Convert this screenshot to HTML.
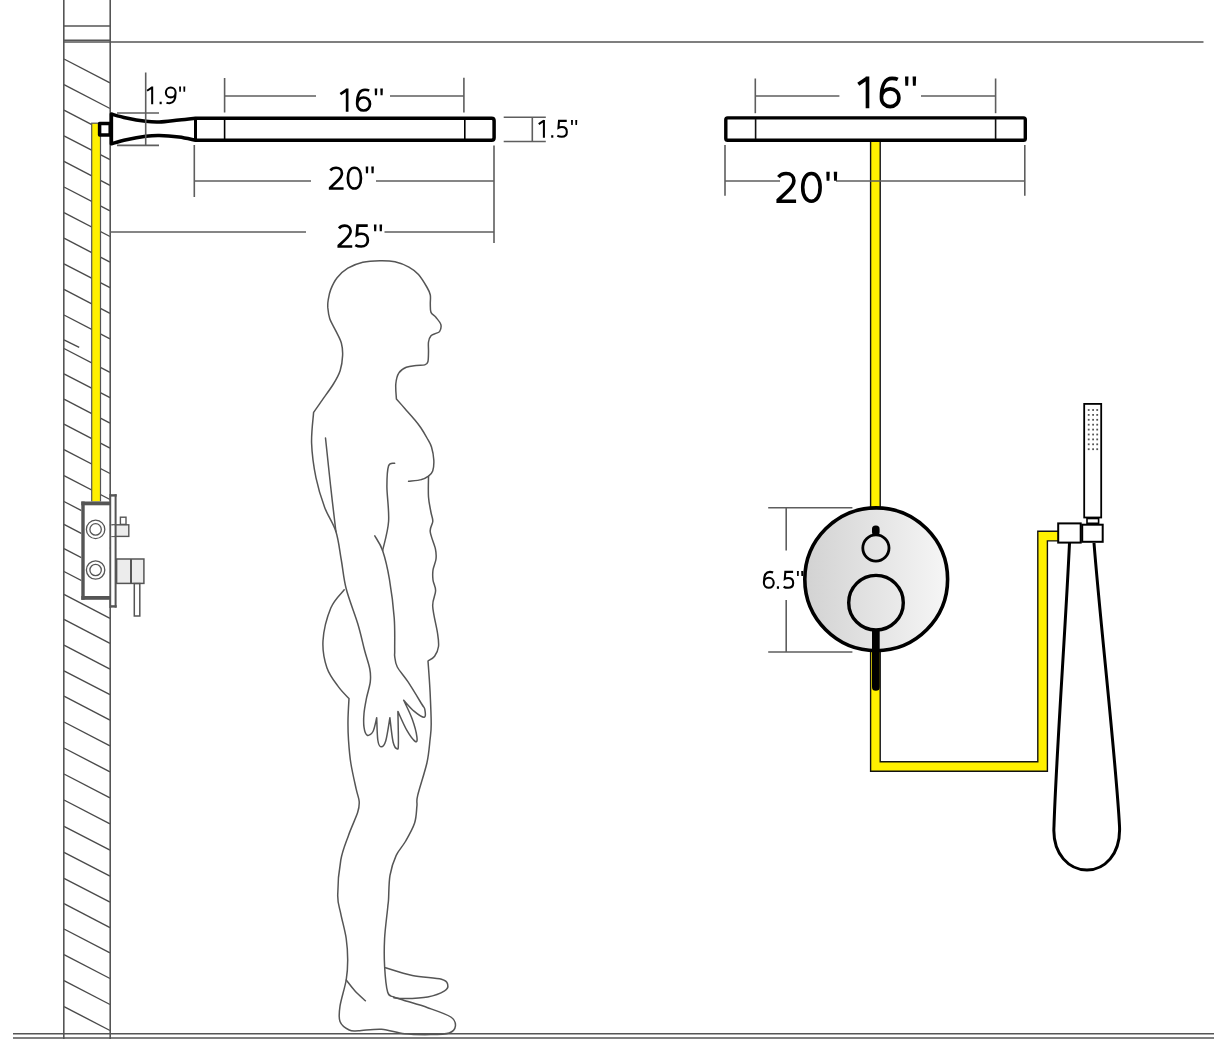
<!DOCTYPE html>
<html><head><meta charset="utf-8">
<style>
html,body{margin:0;padding:0;background:#fff;}
body{width:1214px;height:1040px;overflow:hidden;}
svg{display:block;}
text{font-family:"Liberation Sans",sans-serif;fill:#111;}
</style></head>
<body>
<svg width="1214" height="1040" viewBox="0 0 1214 1040">
<defs>
<linearGradient id="plate" x1="0" y1="0" x2="1" y2="0">
<stop offset="0" stop-color="#d2d2d2"/>
<stop offset="1" stop-color="#f6f6f6"/>
</linearGradient>
</defs>
<rect x="0" y="0" width="1214" height="1040" fill="#fff"/>

<!-- wall hatching -->
<g stroke="#4a4a4a" stroke-width="1.4" fill="none"><line x1="64" y1="59.0" x2="110" y2="82.9"/><line x1="64" y1="84.6" x2="110" y2="108.5"/><line x1="64" y1="110.2" x2="110" y2="134.1"/><line x1="64" y1="135.8" x2="110" y2="159.7"/><line x1="64" y1="161.4" x2="110" y2="185.3"/><line x1="64" y1="187.0" x2="110" y2="210.9"/><line x1="64" y1="212.6" x2="110" y2="236.5"/><line x1="64" y1="238.2" x2="110" y2="262.1"/><line x1="64" y1="263.8" x2="110" y2="287.7"/><line x1="64" y1="289.4" x2="110" y2="313.3"/><line x1="64" y1="315.0" x2="110" y2="338.9"/><line x1="64" y1="348.5" x2="110" y2="372.4"/><line x1="64" y1="373.8" x2="110" y2="397.7"/><line x1="64" y1="399.2" x2="110" y2="423.1"/><line x1="64" y1="424.2" x2="110" y2="448.1"/><line x1="64" y1="449.6" x2="110" y2="473.5"/><line x1="64" y1="475.6" x2="110" y2="499.5"/><line x1="64" y1="501.5" x2="110" y2="525.4"/><line x1="64" y1="524.4" x2="110" y2="548.3"/><line x1="64" y1="548.6" x2="110" y2="572.5"/><line x1="64" y1="571.5" x2="110" y2="595.4"/><line x1="64" y1="594.4" x2="110" y2="618.3"/><line x1="64" y1="619.4" x2="110" y2="643.3"/><line x1="64" y1="645.2" x2="110" y2="669.1"/><line x1="64" y1="670.8" x2="110" y2="694.7"/><line x1="64" y1="696.2" x2="110" y2="720.1"/><line x1="64" y1="722.0" x2="110" y2="745.9"/><line x1="64" y1="748.0" x2="110" y2="771.9"/><line x1="64" y1="774.0" x2="110" y2="797.9"/><line x1="64" y1="800.0" x2="110" y2="823.9"/><line x1="64" y1="826.3" x2="110" y2="850.2"/><line x1="64" y1="852.3" x2="110" y2="876.2"/><line x1="64" y1="878.3" x2="110" y2="902.2"/><line x1="64" y1="903.7" x2="110" y2="927.6"/><line x1="64" y1="929.0" x2="110" y2="952.9"/><line x1="64" y1="954.6" x2="110" y2="978.5"/><line x1="64" y1="980.6" x2="110" y2="1004.5"/><line x1="64" y1="1006.6" x2="110" y2="1030.5"/><line x1="64" y1="339.8" x2="79.2" y2="347.3"/></g>

<!-- wall + room lines -->
<g stroke="#555" stroke-width="1.6" fill="none">
<line x1="63.8" y1="0" x2="63.8" y2="1039"/>
<line x1="110.2" y1="0" x2="110.2" y2="1039"/>
<line x1="64" y1="26" x2="110" y2="26"/>
<line x1="64" y1="40.2" x2="110" y2="40.2"/>
<line x1="64" y1="42" x2="1203.5" y2="42"/>
<line x1="13" y1="1033.8" x2="1214" y2="1033.8"/>
<line x1="13" y1="1038" x2="1214" y2="1038"/>
</g>

<!-- left pipe -->
<rect x="91.7" y="123.2" width="8.8" height="378.8" fill="#fff000" stroke="#555" stroke-width="1.2"/>

<!-- left valve box -->
<rect x="81.3" y="501.5" width="28.4" height="98.3" fill="#fff"/>
<g stroke="#555" fill="none">
<line x1="83" y1="501.5" x2="83" y2="599.8" stroke-width="3.4"/>
<line x1="81.3" y1="503.4" x2="110.2" y2="503.4" stroke-width="3.8"/>
<line x1="81.3" y1="597.9" x2="110.2" y2="597.9" stroke-width="3.8"/>
<line x1="110.3" y1="494" x2="110.3" y2="608" stroke-width="1.8"/>
</g>
<g fill="none" stroke="#555" stroke-width="1.3">
<circle cx="95.6" cy="529.4" r="9.2"/><circle cx="95.6" cy="529.4" r="5.7"/>
<circle cx="95.6" cy="570" r="9.2"/><circle cx="95.6" cy="570" r="5.7"/>
</g>
<rect x="112" y="524.8" width="16.8" height="11.6" fill="#ececec" stroke="#555" stroke-width="1.4"/>
<rect x="120.4" y="517.2" width="5.6" height="7.2" fill="#fff" stroke="#555" stroke-width="1.4"/>
<rect x="116.6" y="559" width="27.3" height="24.4" fill="#ececec" stroke="#555" stroke-width="1.5"/>
<line x1="131" y1="559" x2="131" y2="583.4" stroke="#555" stroke-width="2"/>
<rect x="134.3" y="583.6" width="5.5" height="32.4" fill="#fff" stroke="#555" stroke-width="1.5"/>
<rect x="111.2" y="525.5" width="3.4" height="10.6" fill="#fff"/>
<g stroke="#555" fill="none">
<line x1="110.3" y1="495.4" x2="116.7" y2="495.4" stroke-width="2.4"/>
<line x1="110.3" y1="606.4" x2="116.7" y2="606.4" stroke-width="2.4"/>
<line x1="115.6" y1="494.2" x2="115.6" y2="607.6" stroke-width="2"/>
</g>
<!-- left shower arm -->
<g fill="none" stroke="#000" stroke-width="3.5" stroke-linejoin="round">
<rect x="99.6" y="123.6" width="10.6" height="11.4" fill="#fff"/>
<path d="M111.4,114.0 C113.9,114.7 120.7,116.8 126.4,118.0 C132.1,119.2 140.2,120.6 145.7,121.3 C151.2,122.0 153.8,122.2 159.3,122.0 C164.9,121.8 173.0,120.6 179.0,120.0 C185.0,119.4 192.8,118.5 195.5,118.2 L491.6,118.2 Q494.1,118.2 494.1,120.7 L494.1,137.7 Q494.1,140.2 491.6,140.2 L195.5,140.2 C192.8,139.7 185.0,137.8 179.0,137.0 C173.0,136.2 164.9,135.5 159.3,135.4 C153.8,135.3 151.2,135.5 145.7,136.2 C140.2,136.9 132.1,138.4 126.4,139.7 C120.7,141.0 113.9,143.1 111.4,143.8 Z" fill="#fff"/>
<line x1="111.4" y1="113" x2="111.4" y2="145" stroke-width="3"/>
<line x1="195.5" y1="118" x2="195.5" y2="140" stroke-width="3"/>
</g>
<g stroke="#000" stroke-width="1.6"><line x1="224.6" y1="119" x2="224.6" y2="139"/><line x1="464.8" y1="119" x2="464.8" y2="139"/></g>

<!-- left dims -->
<g stroke="#5e5e5e" stroke-width="1.6" fill="none">
<line x1="145.7" y1="72.5" x2="145.7" y2="146"/>
<line x1="117" y1="113" x2="159" y2="113"/>
<line x1="117" y1="145.4" x2="159" y2="145.4"/>
<line x1="224.6" y1="78" x2="224.6" y2="112.5"/>
<line x1="463.9" y1="77.8" x2="463.9" y2="112.5"/>
<line x1="225" y1="96" x2="316" y2="96"/>
<line x1="390" y1="96" x2="463.9" y2="96"/>
<line x1="503.7" y1="117.3" x2="545.8" y2="117.3"/>
<line x1="503.7" y1="141.5" x2="545.8" y2="141.5"/>
<line x1="532.3" y1="117.3" x2="532.3" y2="141.5"/>
<line x1="194.3" y1="145" x2="194.3" y2="197"/>
<line x1="194.3" y1="181" x2="311" y2="181"/>
<line x1="376" y1="181" x2="494" y2="181"/>
<line x1="494" y1="145.6" x2="494" y2="243"/>
<line x1="110" y1="232" x2="306" y2="232"/>
<line x1="384.5" y1="232" x2="494" y2="232"/>
</g>

<!-- right: pipe -->
<path d="M875.4,141 V766.5 H1042.6 V536.1 H1058" fill="none" stroke="#111" stroke-width="11"/>
<path d="M875.4,141 V766.5 H1042.6 V536.1 H1058" fill="none" stroke="#fff000" stroke-width="8.2"/>

<!-- right: shower head -->
<g fill="#fff" stroke="#000" stroke-width="3.4">
<rect x="725.8" y="117.9" width="299.5" height="22.4" rx="1.8"/>
</g>
<g stroke="#111" stroke-width="1.6"><line x1="755.6" y1="119" x2="755.6" y2="139"/><line x1="995.6" y1="119" x2="995.6" y2="139"/></g>
<g stroke="#5e5e5e" stroke-width="1.6" fill="none">
<line x1="755.3" y1="78.5" x2="755.3" y2="113.2"/>
<line x1="995.6" y1="78.5" x2="995.6" y2="113.2"/>
<line x1="755.3" y1="96" x2="839.4" y2="96"/>
<line x1="921" y1="96" x2="995.6" y2="96"/>
<line x1="725" y1="145" x2="725" y2="195.7"/>
<line x1="1024.8" y1="145" x2="1024.8" y2="195.7"/>
<line x1="725" y1="181" x2="780" y2="181"/>
<line x1="836" y1="181" x2="1024.8" y2="181"/>
</g>

<!-- mixer -->
<g stroke="#5e5e5e" stroke-width="1.6" fill="none">
<line x1="768.2" y1="507.7" x2="852.4" y2="507.7"/>
<line x1="768.2" y1="652" x2="852.4" y2="652"/>
<line x1="786.2" y1="507.7" x2="786.2" y2="550.4"/>
<line x1="786.2" y1="600" x2="786.2" y2="652"/>
</g>
<circle cx="876.2" cy="579.3" r="71.4" fill="url(#plate)" stroke="#000" stroke-width="3.6"/>
<circle cx="875.9" cy="548" r="13.1" fill="none" stroke="#000" stroke-width="2.8"/>
<rect x="872" y="525.5" width="7.6" height="10" rx="3.6" fill="#000"/>
<circle cx="876" cy="602.7" r="27.3" fill="none" stroke="#000" stroke-width="3.4"/>
<path d="M872,629.5 H879.7 V687 A3.85,3.85 0 0 1 872,687 Z" fill="#000"/>

<!-- hand shower -->
<g fill="#fff" stroke="#000" stroke-width="2">
<path d="M1069.5,543 C1066,620 1056,760 1054,826 C1052,855 1070,870 1087,870 C1104,870 1121,855 1119.5,826 C1116,760 1100,620 1094,543" fill="none" stroke-width="3"/>
<rect x="1084.2" y="403.9" width="17" height="113.6" stroke-width="1.8"/>
<rect x="1087" y="518.5" width="11.6" height="4.8" stroke-width="1.6"/>
<rect x="1058.2" y="523.4" width="22.5" height="19.2"/>
<rect x="1082.2" y="524.7" width="20.5" height="17.1"/>
</g>
<g fill="#555"><rect x="1087.8" y="409.1" width="1.8" height="1.8"/><rect x="1092.2" y="409.1" width="1.8" height="1.8"/><rect x="1096.3" y="409.1" width="1.8" height="1.8"/><rect x="1087.8" y="414.0" width="1.8" height="1.8"/><rect x="1092.2" y="414.0" width="1.8" height="1.8"/><rect x="1096.3" y="414.0" width="1.8" height="1.8"/><rect x="1087.8" y="418.9" width="1.8" height="1.8"/><rect x="1092.2" y="418.9" width="1.8" height="1.8"/><rect x="1096.3" y="418.9" width="1.8" height="1.8"/><rect x="1087.8" y="423.8" width="1.8" height="1.8"/><rect x="1092.2" y="423.8" width="1.8" height="1.8"/><rect x="1096.3" y="423.8" width="1.8" height="1.8"/><rect x="1087.8" y="428.7" width="1.8" height="1.8"/><rect x="1092.2" y="428.7" width="1.8" height="1.8"/><rect x="1096.3" y="428.7" width="1.8" height="1.8"/><rect x="1087.8" y="433.6" width="1.8" height="1.8"/><rect x="1092.2" y="433.6" width="1.8" height="1.8"/><rect x="1096.3" y="433.6" width="1.8" height="1.8"/><rect x="1087.8" y="438.5" width="1.8" height="1.8"/><rect x="1092.2" y="438.5" width="1.8" height="1.8"/><rect x="1096.3" y="438.5" width="1.8" height="1.8"/><rect x="1087.8" y="443.4" width="1.8" height="1.8"/><rect x="1092.2" y="443.4" width="1.8" height="1.8"/><rect x="1096.3" y="443.4" width="1.8" height="1.8"/><rect x="1087.8" y="448.3" width="1.8" height="1.8"/><rect x="1092.2" y="448.3" width="1.8" height="1.8"/><rect x="1096.3" y="448.3" width="1.8" height="1.8"/></g>
<g><path transform="translate(146.60,86.50) scale(0.1770)" d="M2.5,24 L31.5,4.5 M31.5,0 V100" fill="none" stroke="#000" stroke-width="11.5"/><path transform="translate(159.40,86.50) scale(0.1770)" d="M1,86 H13 V100 H1 Z" fill="#000"/><path transform="translate(164.90,86.50) scale(0.1770)" d="M9,91 C15,94 21,94.5 27,94.5 C49,94.5 60.5,72 60.5,36 M33,61.5 C18,61.5 5.5,50 5.5,33.5 C5.5,17 18,5.5 33,5.5 C48,5.5 60.5,17 60.5,33.5 C60.5,50 48,61.5 33,61.5 Z" fill="none" stroke="#000" stroke-width="11.5"/><path transform="translate(179.10,86.50) scale(0.1770)" d="M0,0 H11 L10,29 H1 Z M24,0 H35 L34,29 H25 Z" fill="#000"/><path transform="translate(339.80,88.50) scale(0.2330)" d="M2.5,24 L31.5,4.5 M31.5,0 V100" fill="none" stroke="#000" stroke-width="11.5"/><path transform="translate(355.90,88.50) scale(0.2330)" d="M57,9 C51,6 45,5.5 39,5.5 C17,5.5 5.5,28 5.5,64 M33,38.5 C48,38.5 60.5,50 60.5,66.5 C60.5,83 48,94.5 33,94.5 C18,94.5 5.5,83 5.5,66.5 C5.5,50 18,38.5 33,38.5 Z" fill="none" stroke="#000" stroke-width="11.5"/><path transform="translate(374.70,88.50) scale(0.2330)" d="M0,0 H11 L10,29 H1 Z M24,0 H35 L34,29 H25 Z" fill="#000"/><path transform="translate(538.30,119.90) scale(0.1780)" d="M2.5,24 L31.5,4.5 M31.5,0 V100" fill="none" stroke="#000" stroke-width="11.5"/><path transform="translate(551.00,119.90) scale(0.1780)" d="M1,86 H13 V100 H1 Z" fill="#000"/><path transform="translate(556.60,119.90) scale(0.1780)" d="M57,5.5 H13.5 L10.5,45 C16,41.5 23,40 30,40 C47,40 57.5,51 57.5,67.5 C57.5,84 46,94.5 29,94.5 C18,94.5 10,92 4,88.5" fill="none" stroke="#000" stroke-width="11.5"/><path transform="translate(571.00,119.90) scale(0.1780)" d="M0,0 H11 L10,29 H1 Z M24,0 H35 L34,29 H25 Z" fill="#000"/><path transform="translate(328.90,166.50) scale(0.2330)" d="M6.5,17 C12.5,9 21,5.5 31,5.5 C46,5.5 56,14.5 56,28.5 C56,42 48,51 34,64 L5.5,91 V94.5 H63" fill="none" stroke="#000" stroke-width="11.5"/><path transform="translate(346.60,166.50) scale(0.2330)" d="M33.5,5.5 C50,5.5 61.5,22 61.5,50 C61.5,78 50,94.5 33.5,94.5 C17,94.5 5.5,78 5.5,50 C5.5,22 17,5.5 33.5,5.5 Z" fill="none" stroke="#000" stroke-width="11.5"/><path transform="translate(365.70,166.50) scale(0.2330)" d="M0,0 H11 L10,29 H1 Z M24,0 H35 L34,29 H25 Z" fill="#000"/><path transform="translate(337.50,224.40) scale(0.2340)" d="M6.5,17 C12.5,9 21,5.5 31,5.5 C46,5.5 56,14.5 56,28.5 C56,42 48,51 34,64 L5.5,91 V94.5 H63" fill="none" stroke="#000" stroke-width="11.5"/><path transform="translate(354.40,224.40) scale(0.2340)" d="M57,5.5 H13.5 L10.5,45 C16,41.5 23,40 30,40 C47,40 57.5,51 57.5,67.5 C57.5,84 46,94.5 29,94.5 C18,94.5 10,92 4,88.5" fill="none" stroke="#000" stroke-width="11.5"/><path transform="translate(373.90,224.40) scale(0.2340)" d="M0,0 H11 L10,29 H1 Z M24,0 H35 L34,29 H25 Z" fill="#000"/><path transform="translate(857.50,76.60) scale(0.3170)" d="M2.5,24 L31.5,4.5 M31.5,0 V100" fill="none" stroke="#000" stroke-width="11.5"/><path transform="translate(879.70,76.60) scale(0.3170)" d="M57,9 C51,6 45,5.5 39,5.5 C17,5.5 5.5,28 5.5,64 M33,38.5 C48,38.5 60.5,50 60.5,66.5 C60.5,83 48,94.5 33,94.5 C18,94.5 5.5,83 5.5,66.5 C5.5,50 18,38.5 33,38.5 Z" fill="none" stroke="#000" stroke-width="11.5"/><path transform="translate(905.00,76.60) scale(0.3170)" d="M0,0 H11 L10,29 H1 Z M24,0 H35 L34,29 H25 Z" fill="#000"/><path transform="translate(776.50,171.80) scale(0.3110)" d="M6.5,17 C12.5,9 21,5.5 31,5.5 C46,5.5 56,14.5 56,28.5 C56,42 48,51 34,64 L5.5,91 V94.5 H63" fill="none" stroke="#000" stroke-width="11.5"/><path transform="translate(801.00,171.80) scale(0.3110)" d="M33.5,5.5 C50,5.5 61.5,22 61.5,50 C61.5,78 50,94.5 33.5,94.5 C17,94.5 5.5,78 5.5,50 C5.5,22 17,5.5 33.5,5.5 Z" fill="none" stroke="#000" stroke-width="11.5"/><path transform="translate(826.30,171.80) scale(0.3110)" d="M0,0 H11 L10,29 H1 Z M24,0 H35 L34,29 H25 Z" fill="#000"/><path transform="translate(762.90,570.90) scale(0.1790)" d="M57,9 C51,6 45,5.5 39,5.5 C17,5.5 5.5,28 5.5,64 M33,38.5 C48,38.5 60.5,50 60.5,66.5 C60.5,83 48,94.5 33,94.5 C18,94.5 5.5,83 5.5,66.5 C5.5,50 18,38.5 33,38.5 Z" fill="none" stroke="#000" stroke-width="11.5"/><path transform="translate(776.70,570.90) scale(0.1790)" d="M1,86 H13 V100 H1 Z" fill="#000"/><path transform="translate(782.90,570.90) scale(0.1790)" d="M57,5.5 H13.5 L10.5,45 C16,41.5 23,40 30,40 C47,40 57.5,51 57.5,67.5 C57.5,84 46,94.5 29,94.5 C18,94.5 10,92 4,88.5" fill="none" stroke="#000" stroke-width="11.5"/><path transform="translate(796.90,570.90) scale(0.1790)" d="M0,0 H11 L10,29 H1 Z M24,0 H35 L34,29 H25 Z" fill="#000"/></g>

<!-- human figure -->
<g fill="none" stroke="#555" stroke-width="1.5" stroke-linejoin="round" stroke-linecap="round"><path d="M408.6,481.3 C410.8,481.0 418.2,480.5 421.5,479.6 C424.8,478.8 426.6,477.6 428.5,476.2 C430.4,474.8 431.8,473.7 432.7,471.0 C433.6,468.3 434.0,464.0 433.8,460.0 C433.6,456.0 432.6,450.7 431.5,447.0 C430.4,443.3 428.8,441.2 427.0,438.0 C425.2,434.8 423.0,431.0 421.0,428.0 C419.0,425.0 417.6,423.1 414.9,419.9 C412.2,416.7 408.1,412.2 405.0,408.7 C401.9,405.2 397.8,400.5 396.4,398.9 C396.3,396.4 395.4,388.3 395.8,384.0 C396.2,379.7 397.1,375.7 398.9,372.9 C400.6,370.1 403.4,368.5 406.3,367.3 C409.2,366.1 413.1,365.9 416.2,365.5 C419.3,365.1 422.9,365.5 424.8,364.9 C426.8,364.3 427.3,364.0 427.9,361.8 C428.5,359.6 428.4,355.2 428.5,351.9 C428.6,348.6 428.1,344.7 428.5,342.0 C428.9,339.3 429.8,337.2 431.0,335.8 C432.2,334.4 434.5,334.1 435.9,333.4 C437.3,332.7 438.8,332.9 439.6,331.5 C440.4,330.1 441.5,327.1 440.9,324.7 C440.3,322.3 437.5,319.4 435.9,317.3 C434.2,315.2 431.9,314.6 431.0,312.4 C430.1,310.2 430.4,306.9 430.3,304.0 C430.2,301.1 430.8,297.8 430.3,295.0 C429.8,292.2 429.1,290.9 427.1,287.5 C425.1,284.1 421.5,278.0 418.5,274.6 C415.5,271.2 412.8,269.2 408.9,267.1 C405.0,265.0 399.8,262.9 395.0,261.8 C390.2,260.7 385.4,260.6 380.0,260.7 C374.6,260.8 368.2,261.1 362.8,262.3 C357.4,263.6 352.1,265.6 347.8,268.2 C343.5,270.8 340.0,274.2 337.1,277.8 C334.2,281.4 332.2,285.9 330.7,289.6 C329.2,293.3 328.7,297.0 328.2,300.0 C327.7,303.0 327.6,304.3 327.8,307.4 C328.1,310.5 328.4,314.6 329.7,318.5 C331.0,322.4 333.9,326.8 335.8,330.9 C337.8,335.0 340.3,339.1 341.4,343.2 C342.5,347.3 342.8,351.1 342.6,355.6 C342.4,360.1 341.7,365.7 340.2,370.4 C338.7,375.1 336.4,379.1 333.4,384.0 C330.4,388.9 325.5,395.4 322.2,400.1 C318.9,404.8 315.0,410.3 313.6,412.4 C313.3,417.5 311.2,432.4 311.6,443.3 C312.0,454.2 313.8,467.2 316.0,477.9 C318.2,488.6 321.3,498.4 324.6,507.3 C327.9,516.2 333.1,522.7 335.9,531.5 C338.7,540.3 339.6,550.5 341.3,560.0 C343.0,569.5 343.5,578.2 346.2,588.8 C348.9,599.4 354.6,613.3 357.7,623.5 C360.8,633.7 362.5,642.4 364.5,650.0 C366.5,657.6 368.8,663.7 369.8,669.0 C370.8,674.3 370.8,676.9 370.3,681.7 C369.8,686.5 367.7,692.3 366.6,697.6 C365.6,702.9 364.4,708.6 364.0,713.5 C363.6,718.4 363.5,723.6 364.0,727.2 C364.5,730.8 365.7,734.5 367.2,735.2 C368.7,735.9 371.4,734.4 373.0,731.5 C374.6,728.6 376.1,720.0 376.7,717.7 C376.9,721.4 377.1,735.1 377.8,740.0 C378.5,744.9 379.6,746.6 380.9,746.8 C382.2,747.0 384.2,745.9 385.7,741.0 C387.2,736.1 389.2,721.6 389.9,717.7 C390.4,721.8 391.9,736.8 393.1,742.0 C394.3,747.2 396.4,748.8 397.3,749.0 C398.2,749.2 398.3,749.4 398.4,743.1 C398.5,736.8 398.0,716.7 397.9,711.4 C399.4,714.6 404.0,725.4 406.9,730.4 C409.8,735.4 413.6,740.4 415.3,741.5 C417.0,742.6 417.4,740.6 416.9,736.8 C416.4,733.0 414.3,724.9 412.1,718.8 C409.9,712.7 405.1,703.4 403.7,700.3 C405.5,702.1 410.9,708.6 414.3,711.4 C417.7,714.2 422.6,717.6 424.3,717.2 C426.1,716.9 425.2,711.5 424.8,709.3 C424.4,707.1 424.5,708.6 421.7,704.0 C418.9,699.4 412.0,687.9 407.9,681.7 C403.8,675.5 399.5,671.2 397.3,667.0 C395.1,662.8 395.1,659.1 394.7,656.3 C394.3,653.5 394.8,656.4 394.7,650.0 C394.6,643.6 395.1,629.5 394.2,617.7 C393.3,605.9 391.3,590.4 389.4,579.2 C387.5,568.0 385.0,557.8 382.6,550.6 C380.2,543.4 376.1,538.4 374.8,535.9"/><path d="M325.5,438.0 C326.3,445.8 328.8,469.4 330.5,485.0 C332.2,500.6 335.0,523.8 335.9,531.5"/><path d="M394.7,463.2 C393.7,463.6 389.9,461.9 388.6,465.8 C387.3,469.7 386.9,477.3 386.9,486.5 C386.9,495.7 389.3,510.5 388.6,521.2 C387.9,531.9 383.6,545.7 382.6,550.6"/><path d="M428.5,476.2 C428.5,479.7 428.1,490.9 428.5,497.0 C428.9,503.1 430.3,508.5 431.0,512.5 C431.7,516.5 432.9,518.0 432.8,521.2 C432.7,524.4 429.8,526.9 430.2,531.5 C430.6,536.1 434.4,544.2 435.4,548.8 C436.4,553.4 436.4,555.5 436.0,559.0 C435.6,562.5 433.5,566.5 433.0,570.0 C432.5,573.5 432.6,576.5 433.0,580.0 C433.4,583.5 435.7,586.4 435.6,590.8 C435.6,595.2 432.4,599.2 432.7,606.2 C433.0,613.2 436.5,626.3 437.5,633.0 C438.5,639.7 439.0,642.6 438.5,646.5 C438.0,650.4 436.4,653.8 434.6,656.2 C432.9,658.6 429.1,660.2 428.0,661.0 C428.4,666.2 429.6,681.8 430.1,692.3 C430.6,702.8 431.2,716.0 431.2,724.0 C431.2,732.0 430.7,733.5 430.0,740.0 C429.3,746.5 428.9,753.8 426.9,763.0 C424.8,772.2 419.4,788.2 417.7,795.4 C416.0,802.6 417.4,801.6 416.9,806.2 C416.4,810.8 416.5,817.1 414.6,823.0 C412.7,828.9 408.5,836.1 405.4,841.5 C402.3,846.9 398.8,849.8 396.2,855.4 C393.6,861.0 391.3,868.0 390.0,875.4 C388.7,882.8 388.9,894.6 388.5,900.0 C388.1,905.4 388.3,901.3 387.7,907.7 C387.1,914.1 385.1,928.8 384.6,938.5 C384.1,948.2 384.1,957.2 384.6,966.2 C385.1,975.2 386.2,987.2 387.7,992.3 C389.2,997.4 391.2,995.7 393.8,997.0 C396.4,998.3 397.4,998.2 403.0,1000.0 C408.6,1001.8 419.7,1004.9 427.7,1007.7 C435.7,1010.5 446.2,1013.9 450.8,1017.0 C455.4,1020.1 455.7,1023.5 455.4,1026.2 C455.1,1028.9 453.3,1031.6 449.2,1033.0 C445.1,1034.4 438.2,1034.5 430.8,1034.6 C423.4,1034.7 412.8,1034.7 404.6,1033.8 C396.4,1032.9 389.2,1029.7 381.5,1029.2 C373.8,1028.7 363.9,1030.7 358.5,1030.8 C353.1,1030.9 352.3,1031.5 349.2,1030.0 C346.1,1028.5 341.5,1025.5 340.0,1021.5 C338.5,1017.5 339.0,1013.1 340.0,1006.2 C341.0,999.3 344.9,987.7 346.2,980.0 C347.5,972.3 347.7,966.9 347.7,960.0 C347.7,953.1 347.3,946.2 346.2,938.5 C345.1,930.8 342.2,921.0 340.8,913.8 C339.4,906.6 337.7,904.4 337.7,895.4 C337.7,886.4 339.0,870.0 340.8,860.0 C342.6,850.0 345.7,843.4 348.5,835.4 C351.3,827.4 355.9,817.9 357.7,812.3 C359.5,806.6 359.4,805.4 359.2,801.5 C358.9,797.6 357.6,795.6 356.2,789.2 C354.8,782.8 352.1,771.2 350.8,763.0 C349.5,754.8 349.0,747.2 348.5,740.0 C348.0,732.8 347.9,726.9 348.0,720.0 C348.1,713.1 348.8,702.1 349.0,698.5 C347.2,696.6 342.2,692.0 338.5,686.9 C334.8,681.8 329.5,675.4 326.9,667.7 C324.3,660.0 322.4,650.8 323.0,640.8 C323.6,630.8 327.3,616.5 330.8,608.0 C334.3,599.5 342.0,592.8 344.2,589.8"/><path d="M346.2,980.0 C347.7,981.8 351.8,987.5 355.0,991.0 C358.2,994.5 363.7,999.2 365.4,1000.8"/><path d="M385.4,967.7 C389.9,969.0 402.9,973.5 412.3,975.4 C421.7,977.3 435.6,977.7 441.5,979.2 C447.4,980.7 447.2,982.7 447.7,984.6 C448.2,986.5 447.9,988.8 444.6,990.8 C441.3,992.8 434.4,995.6 427.7,996.9 C421.0,998.2 410.2,998.4 404.6,998.5 C399.0,998.6 395.6,997.8 393.8,997.7"/></g>
</svg>
</body></html>
